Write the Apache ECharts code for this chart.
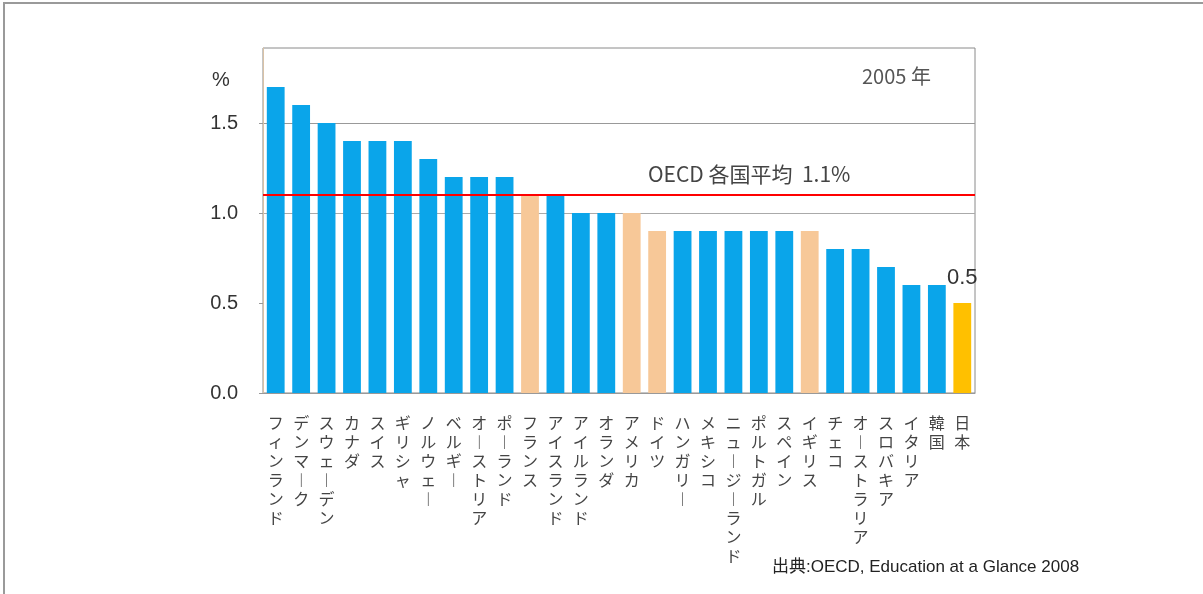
<!DOCTYPE html>
<html>
<head>
<meta charset="utf-8">
<script src="https://cdn.jsdelivr.net/npm/echarts@6/dist/echarts.min.js"></script>
<style>
  body { margin: 0; background: #fff; }
  #frame { position: absolute; left: 3px; top: 2px; width: 1200px; height: 592px;
    border-left: 2px solid #9a9a9a; border-top: 2px solid #9a9a9a; box-sizing: border-box; }
  #chart { position: absolute; left: 0; top: 0; width: 1203px; height: 594px; }
</style>
</head>
<body>
<div id="frame"></div>
<div id="chart"></div>
<script>
const countries = ['フィンランド', 'デンマーク', 'スウェーデン', 'カナダ', 'スイス', 'ギリシャ', 'ノルウェー',
  'ベルギー', 'オーストリア', 'ポーランド', 'フランス', 'アイスランド', 'アイルランド', 'オランダ',
  'アメリカ', 'ドイツ', 'ハンガリー', 'メキシコ', 'ニュージーランド', 'ポルトガル', 'スペイン',
  'イギリス', 'チェコ', 'オーストラリア', 'スロバキア', 'イタリア', '韓国', '日本'];
const values = [1.7, 1.6, 1.5, 1.4, 1.4, 1.4, 1.3, 1.2, 1.2, 1.2, 1.1, 1.1, 1.0, 1.0,
  1.0, 0.9, 0.9, 0.9, 0.9, 0.9, 0.9, 0.9, 0.8, 0.8, 0.7, 0.6, 0.6, 0.5];
// highlighted countries and Japan
const peachCountries = ['フランス', 'アメリカ', 'ドイツ', 'イギリス'];
const japan = '日本';
const oecdAverage = 1.1;
const yTicks = [0, 0.5, 1.0, 1.5];

const blue = '#0AA5EA';
const peach = '#F7C898';
const gold = '#FFC000';
const latin = 'Liberation Sans, Arial, sans-serif';
const cjk = 'Noto Sans CJK JP, sans-serif';

const chart = echarts.init(document.getElementById('chart'));

const barData = values.map((v, i) => {
  const name = countries[i];
  const item = { value: v, itemStyle: { color: blue } };
  if (peachCountries.includes(name)) item.itemStyle.color = peach;
  if (name === japan) {
    item.itemStyle.color = gold;
    item.label = { show: true, position: 'top', distance: 14, fontSize: 22,
      color: '#333', fontFamily: latin,
      formatter: (p) => p.value.toFixed(1) };
  }
  return item;
});

const option = {
  animation: false,
  title: [
    { text: '%', left: 212, top: 70, padding: 0,
      textStyle: { fontSize: 20, fontWeight: 'normal', color: '#333', fontFamily: latin } },
    { text: '2005 年', left: 862, top: 66, padding: 0,
      textStyle: { fontSize: 20, fontWeight: 'normal', color: '#555', fontFamily: cjk } },
    { text: 'OECD 各国平均  1.1%', left: 648, top: 164, padding: 0,
      textStyle: { fontSize: 21, fontWeight: 'normal', color: '#444', fontFamily: cjk } },
    { text: '出典:OECD, Education at a Glance 2008', left: 772, top: 559, padding: 0,
      textStyle: { fontSize: 17, fontWeight: 'normal', color: '#222', fontFamily: 'Liberation Sans, Noto Sans CJK JP, sans-serif' } }
  ],
  grid: {
    left: 263, right: 228, top: 48, bottom: 201,
    show: true, borderColor: '#8a8a8a', borderWidth: 1, backgroundColor: 'transparent'
  },
  xAxis: {
    type: 'category',
    data: countries,
    axisLine: { lineStyle: { color: '#999' } },
    axisTick: { show: false },
    axisLabel: {
      interval: 0,
      margin: 20,
      verticalAlign: 'top',
      fontSize: 16,
      lineHeight: 19,
      color: '#444',
      fontFamily: cjk,
      // stack the characters to read top-to-bottom
      formatter: (name) => name.replace(/ー/g, '︱').split('').join('\n')
    }
  },
  yAxis: {
    type: 'value',
    min: 0,
    max: 1.9167,
    interval: 0.5,
    axisLine: { show: true, lineStyle: { color: '#d9c2a6' } },
    axisTick: { show: true, length: 4, lineStyle: { color: '#999' } },
    axisLabel: {
      showMaxLabel: false,
      margin: 25,
      fontSize: 20,
      color: '#333',
      fontFamily: latin,
      formatter: (v) => yTicks.includes(v) ? v.toFixed(1) : ''
    },
    splitLine: {
      show: true,
      lineStyle: { color: ['transparent', 'transparent', '#aaa', '#999', 'transparent'] }
    }
  },
  series: [{
    type: 'bar',
    data: barData,
    barCategoryGap: '30%',
    markLine: {
      silent: true,
      symbol: 'none',
      label: { show: false },
      lineStyle: { color: '#FF0000', width: 2, type: 'solid' },
      data: [{ yAxis: oecdAverage }]
    }
  }]
};

chart.setOption(option);
</script>
</body>
</html>
